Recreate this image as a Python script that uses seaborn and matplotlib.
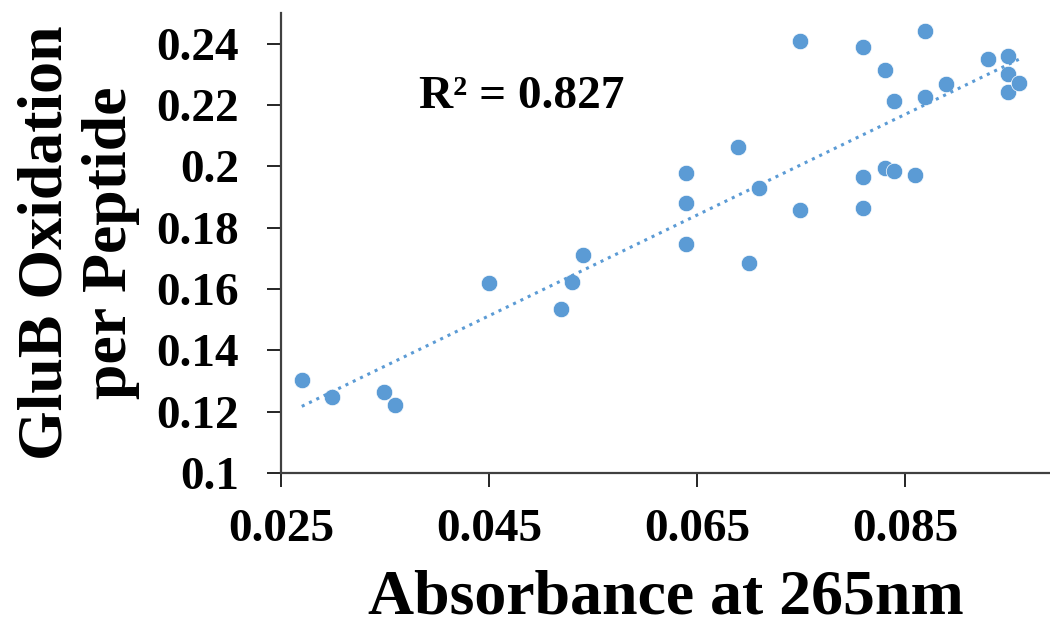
import numpy as np
import pandas as pd
import matplotlib
matplotlib.use("Agg")
import matplotlib.pyplot as plt
import seaborn as sns

# values
absorbance = [0.0270, 0.0299, 0.0349, 0.0360, 0.0450, 0.0519, 0.0530, 0.0540,
              0.0639, 0.0639, 0.0639, 0.0689, 0.0700, 0.0709, 0.0749, 0.0749,
              0.0809, 0.0809, 0.0809, 0.0830, 0.0830, 0.0839, 0.0839, 0.0859,
              0.0869, 0.0869, 0.0889, 0.0929, 0.0949, 0.0949, 0.0949, 0.0959]
oxidation = [0.1304, 0.1249, 0.1265, 0.1223, 0.1620, 0.1536, 0.1624, 0.1710,
             0.1978, 0.1880, 0.1746, 0.2062, 0.1684, 0.1930, 0.2408, 0.1858,
             0.2389, 0.1964, 0.1865, 0.2314, 0.1995, 0.2214, 0.1986, 0.1971,
             0.2441, 0.2227, 0.2267, 0.2349, 0.2360, 0.2302, 0.2244, 0.2271]

x_ticks = [0.025, 0.045, 0.065, 0.085]
x_tick_labels = ["0.025", "0.045", "0.065", "0.085"]
y_ticks = [0.10, 0.12, 0.14, 0.16, 0.18, 0.20, 0.22, 0.24]
y_tick_labels = ["0.1", "0.12", "0.14", "0.16", "0.18", "0.2", "0.22", "0.24"]
r2_text = "R² = 0.827"

df = pd.DataFrame({"Absorbance": absorbance, "Oxidation": oxidation})

sns.set_style("ticks")
plt.rcParams["font.family"] = ["Liberation Serif", "DejaVu Serif"]
plt.rcParams["font.weight"] = "bold"
plt.rcParams["text.color"] = "black"
plt.rcParams["axes.labelcolor"] = "black"

blue = "#5B9BD5"
axis_col = "#404040"

fig = plt.figure(figsize=(10.5, 6.29), dpi=100)
ax = fig.add_axes([0.2676, 0.248, 0.7324, 0.7313])

sns.scatterplot(data=df, x="Absorbance", y="Oxidation", ax=ax, s=140,
                color=blue, edgecolor="white", linewidth=0.5, zorder=3)
sns.regplot(data=df, x="Absorbance", y="Oxidation", ax=ax, scatter=False,
            ci=None, line_kws=dict(color=blue, ls=":", lw=2.2, zorder=4))

ax.set_xlim(0.025, 0.0989)
ax.set_ylim(0.1, 0.25)
ax.set_xticks(x_ticks)
ax.set_xticklabels(x_tick_labels)
ax.set_yticks(y_ticks)
ax.set_yticklabels(y_tick_labels)

for side in ["top", "right"]:
    ax.spines[side].set_visible(False)
for side in ["left", "bottom"]:
    ax.spines[side].set_color(axis_col)
    ax.spines[side].set_linewidth(1.6)

ax.tick_params(axis="both", direction="out", length=10, width=1.2,
               color="black", labelsize=34, labelcolor="black")
ax.tick_params(axis="x", pad=16)
ax.tick_params(axis="y", pad=20)

ax.set_xlabel("Absorbance at 265nm", fontsize=46, fontweight="bold",
              labelpad=13, color="black")
ax.set_ylabel("GluB Oxidation\nper Peptide", fontsize=46, fontweight="bold",
              labelpad=12, linespacing=1.15, color="black")

ax.text(0.1793, 0.7935, r2_text, transform=ax.transAxes, fontsize=34,
        fontweight="bold", va="baseline", ha="left", color="black")

fig.savefig("out.png", dpi=100)
